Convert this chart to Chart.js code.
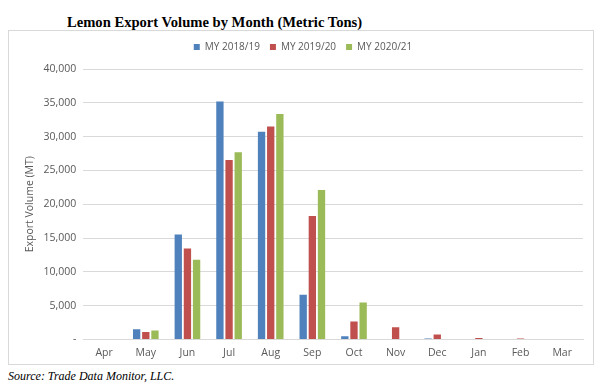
<!DOCTYPE html>
<html>
<head>
<meta charset="utf-8">
<script src="https://cdn.jsdelivr.net/npm/chart.js@4"></script>
<style>
  body { margin: 0; width: 600px; height: 387px; background: #fff; position: relative; overflow: hidden; }
  #title { position: absolute; left: 67px; top: 14px; font: bold 14.6px/16px "Liberation Serif", serif; color: #000; white-space: nowrap; }
  #box { position: absolute; left: 8px; top: 30px; width: 584px; height: 333px; border: 1px solid #d9d9d9; }
  #source { position: absolute; left: 8px; top: 369px; font: italic 12px "Liberation Serif", serif; color: #000; white-space: nowrap; }
</style>
</head>
<body>
<div id="title">Lemon Export Volume by Month (Metric Tons)</div>
<div id="box"><canvas id="barChart" width="584" height="333"></canvas></div>
<div id="source">Source: Trade Data Monitor, LLC.</div>
<script>
var months = ["Apr", "May", "Jun", "Jul", "Aug", "Sep", "Oct", "Nov", "Dec", "Jan", "Feb", "Mar"]
var seriesNames = ["MY 2018/19", "MY 2019/20", "MY 2020/21"]
var my1819 = [0, 1500, 15500, 35200, 30700, 6600, 450, 0, 150, 0, 0, 0]
var my1920 = [0, 1100, 13450, 26550, 31500, 18250, 2650, 1780, 740, 200, 150, 0]
var my2021 = [0, 1300, 11800, 27700, 33350, 22100, 5450, 0, 0, 0, 0, 0]
var colors = ['#4F81BD', '#C0504D', '#9BBB59']
var tickFont = { family: "'Open Sans', sans-serif", size: 10.5 }

// extra room under the legend
var legendGap = {
    id: 'legendGap',
    beforeInit(chart) {
        var origFit = chart.legend.fit
        chart.legend.fit = function(){
            origFit.bind(chart.legend)()
            this.height += 7
        }
    }
}

createChart()

function createChart(){
    var ctx = document.getElementById("barChart").getContext('2d');
    var allData = [my1819, my1920, my2021]
    var datasets = seriesNames.map(function(name, i){
        return {
            label: name,
            data: allData[i],
            backgroundColor: colors[i],
            borderWidth: 0,
            categoryPercentage: 0.66,
            barPercentage: 0.8
        }
    })

    new Chart(ctx, {
        type: 'bar',
        data: { labels: months, datasets: datasets },
        plugins: [legendGap],
        options: {
            responsive: false,
            animation: false,
            layout: { padding: { left: 14, right: 10, top: 1, bottom: -2 } },
            plugins: {
                legend: {
                    display: true,
                    position: 'top',
                    labels: {
                        boxWidth: 6,
                        boxHeight: 6,
                        padding: 10,
                        color: '#595959',
                        font: { family: "'Open Sans', sans-serif", size: 10 }
                    }
                },
                tooltip: { enabled: false }
            },
            scales: {
                x: {
                    grid: { display: false, drawTicks: false },
                    border: { color: '#d9d9d9' },
                    ticks: { color: '#595959', font: tickFont, padding: 7 }
                },
                y: {
                    min: 0,
                    max: 40000,
                    ticks: {
                        stepSize: 5000,
                        color: '#595959',
                        font: tickFont,
                        padding: 7,
                        callback: function(v){ return v === 0 ? '-' : v.toLocaleString('en-US') }
                    },
                    grid: { color: '#d9d9d9', drawTicks: false },
                    border: { display: false },
                    title: {
                        display: true,
                        text: 'Export Volume (MT)',
                        color: '#595959',
                        font: tickFont,
                        padding: { top: 1, bottom: 0 }
                    }
                }
            }
        }
    });
}
</script>
</body>
</html>
